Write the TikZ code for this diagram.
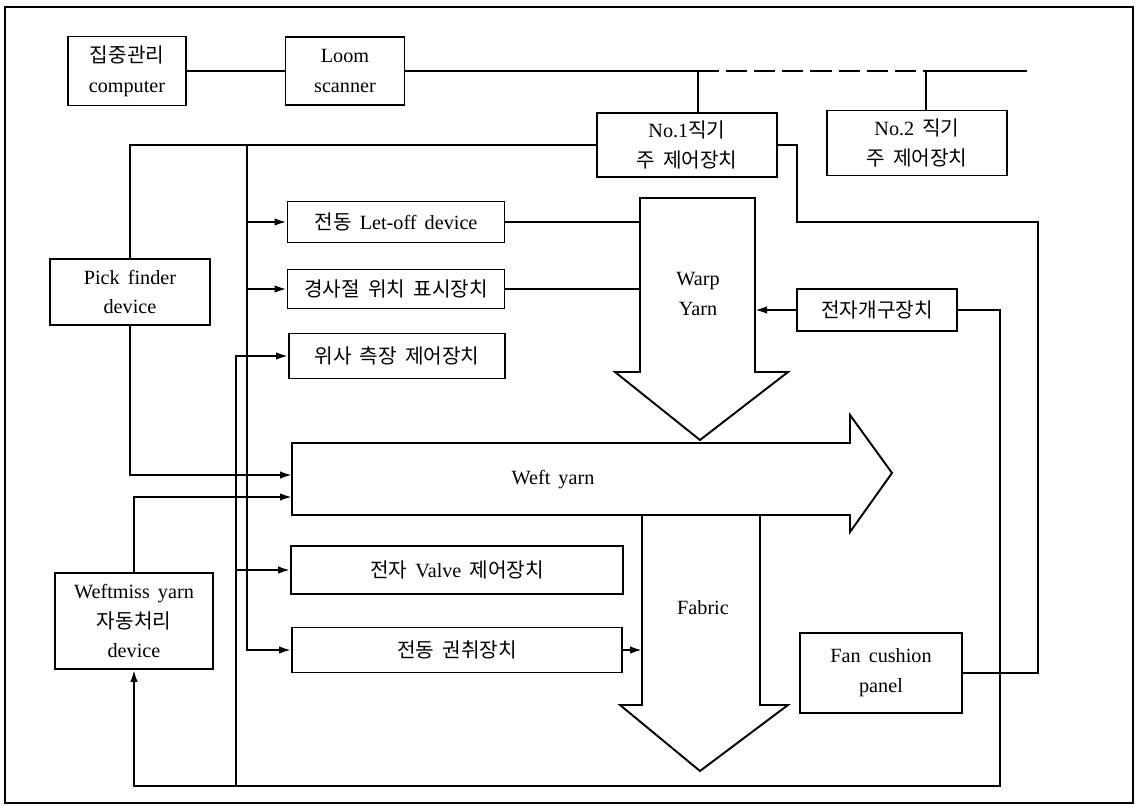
\documentclass[tikz,border=0pt]{standalone}
\usepackage{fontspec}
\setmainfont[WordSpace=1.6]{Liberation Serif}
\newfontfamily\kr[Scale=1.0,WordSpace=1.8]{Noto Sans CJK KR}
\usetikzlibrary{arrows.meta}
\usetikzlibrary{positioning}

\begin{document}
\begin{tikzpicture}[x=0.02cm, y=-0.02cm, line width=1.1pt,
		font=\fontsize{11.5}{17}\selectfont,
		dev/.style 2 args={draw, align=center, inner sep=0pt, minimum width=#1*0.02cm, minimum height=#2*0.02cm},
		lbl/.style={align=center},
		arr/.style={-{Latex[length=2.4mm,width=1.5mm]}},
		flow/.style={draw, line join=miter}]
				\useasboundingbox (0,0) rectangle (1138,807);
				\draw (5,7) rectangle (1133,803);

				\node[dev={118}{69}] (C) at (127,71) {{\kr 집중관리}\\computer};
				\node[dev={119}{68}] (L) at (345,71) {Loom\\scanner};
				\node[dev={180}{64}] (N1) at (687,145) {No.1{\kr 직기}\\{\kr 주 제어장치}};
				\node[dev={180}{65}] (N2) at (917,143) {No.2 {\kr 직기}\\{\kr 주 제어장치}};
				\node[dev={160}{66}] (P) at (130,292) {Pick finder\\device};
				\node[dev={217}{41}] (LO) at (396,222) {{\kr 전동} Let-off device};
				\node[dev={217}{39}] (BR) at (396,289) {\kr 경사절 위치 표시장치};
				\node[dev={216}{45}] (WL) at (397,356) {\kr 위사 측장 제어장치};
				\node[dev={332}{48}] (V) at (457,570) {{\kr 전자} Valve {\kr 제어장치}};
				\node[dev={330}{45}] (T) at (457,650) {\kr 전동 권취장치};
				\node[dev={160}{42}] (SH) at (877,310) {\kr 전자개구장치};
				\node[dev={162}{80}] (F) at (881,673) {Fan cushion\\panel};
				\node[dev={158}{96}] (WM) at (134,621) {Weftmiss yarn\\{\kr 자동처리}\\device};

				\draw[flow] (640,198) -- (755,198) -- (755,372) -- (788,372) -- (700,440) -- (615,372) -- (640,372) -- cycle;
				\draw[flow] (292,443) -- (850,443) -- (850,415) -- (892,473) -- (850,532) -- (850,515) -- (292,515) -- cycle;
				\draw[flow] (642,515) -- (642,705) -- (620,705) -- (700,771) -- (788,705) -- (760,705) -- (760,515);
				\node[lbl] (WY) at (698,294) {Warp\\Yarn};
				\node[lbl] (WF) at (553,480) {Weft yarn};
				\node[lbl] (FB) at (703,608) {Fabric};

				\coordinate (wpL) at (640,198);
				\coordinate (wpR) at (755,198);
				\coordinate (fbL) at (642,515);
				\coordinate (wf1) at (292,475);
				\coordinate (wf2) at (292,497);
				\coordinate (b1) at (698,71);
				\coordinate (b2) at (926,71);
				\coordinate (bE) at (1027,71);
				\coordinate (vA) at (247,145);
				\coordinate (vB) at (236,786);
				\coordinate (bR) at (1000,786);
				\coordinate (rA) at (797,222);
				\coordinate (rB) at (1038,222);

				\draw (C) -- (L);
				\draw (L) -- (b1) -- (b1 |- N1.north);
				\draw[dash pattern=on 12pt off 4pt] (b1) -- (b2);
				\draw (b2) -- (bE);
				\draw (b2) -- (b2 |- N2.north);
				\draw (N1.west) -| (P.north);
				\draw[arr] (vA) |- (T.west);
				\draw[arr] (vA |- LO.west) -- (LO.west);
				\draw[arr] (vA |- BR.west) -- (BR.west);
				\draw (LO.east) -- (LO.east -| wpL);
				\draw (BR.east) -- (BR.east -| wpL);
				\draw[arr] (SH.west) -- (SH.west -| wpR);
				\draw[arr] (T.east) -- (T.east -| fbL);
				\draw[arr] (P.south) |- (wf1);
				\draw[arr] (WM.north) |- (wf2);
				\draw[arr] (SH.east) -| (bR) -| (WM.south);
				\draw[arr] (vB) |- (WL.west);
				\draw[arr] (vB |- V.west) -- (V.west);
				\draw (N1.east) -| (rA) -- (rB) |- (F.east);
			\end{tikzpicture}
\end{document}
